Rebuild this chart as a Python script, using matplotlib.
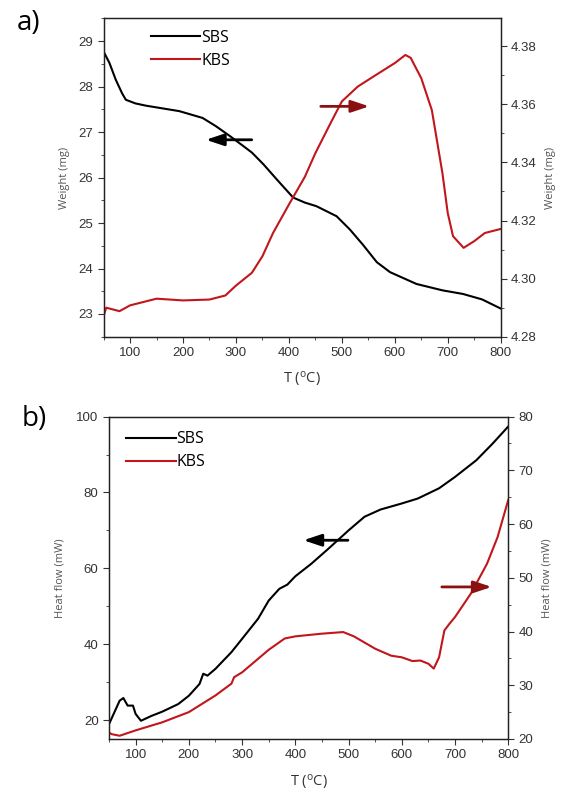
import numpy as np
import matplotlib; matplotlib.use('Agg')
import matplotlib.pyplot as plt
from matplotlib.ticker import MultipleLocator, FormatStrFormatter

# panel a: TGA weight
ta_sbs = [50, 61, 73, 85, 92, 110, 130, 193, 237, 262, 290, 313, 330, 352, 377, 408, 430, 452, 490, 515,
          540, 566, 591, 641, 690, 729, 765, 800]
wa_sbs = [28.77, 28.52, 28.15, 27.85, 27.71, 27.63, 27.58, 27.46, 27.31, 27.13, 26.9, 26.7, 26.55, 26.29,
          25.96, 25.56, 25.45, 25.37, 25.15, 24.86, 24.52, 24.14, 23.92, 23.66, 23.52, 23.44, 23.32, 23.12]
ta_kbs = [50, 55, 80, 100, 150, 200, 250, 280, 300, 330, 350, 370, 400, 430, 450, 480, 500, 530, 560,
          600, 620, 630, 650, 670, 690, 700, 710, 730, 750, 770, 800]
wa_kbs = [4.2871, 4.290, 4.2888, 4.2908, 4.2931, 4.2925, 4.2928, 4.2942, 4.2976, 4.302, 4.3077, 4.3157,
          4.3255, 4.335, 4.3432, 4.354, 4.361, 4.3661, 4.3696, 4.3742, 4.377, 4.376, 4.369, 4.358,
          4.3363, 4.3226, 4.3146, 4.3106, 4.3129, 4.3157, 4.3171]

# panel b: heat flow
tb_sbs = [50, 60, 70, 77, 85, 95, 100, 110, 130, 150, 180, 200, 220, 227, 235, 250, 280, 300, 330, 350,
          370, 385, 400, 430, 460, 500, 530, 560, 600, 630, 670, 700, 740, 770, 800]
hb_sbs = [18.9, 22.0, 25.1, 25.8, 23.8, 23.8, 21.6, 19.8, 21.1, 22.2, 24.2, 26.4, 29.5, 32.2, 31.7, 33.5,
          37.9, 41.4, 46.7, 51.5, 54.6, 55.7, 57.9, 61.2, 64.9, 70.0, 73.6, 75.5, 77.1, 78.4, 81.1, 84.1,
          88.5, 92.8, 97.4]
tb_kbs = [50, 55, 70, 100, 150, 200, 250, 280, 285, 300, 350, 380, 400, 450, 490, 510, 550, 580, 600,
          620, 635, 650, 660, 670, 680, 690, 700, 730, 760, 780, 800]
hb_kbs = [21.2, 20.9, 20.6, 21.6, 23.1, 25.0, 28.1, 30.3, 31.5, 32.4, 36.6, 38.7, 39.1, 39.6, 39.9, 39.1,
          36.8, 35.5, 35.2, 34.5, 34.6, 34.0, 33.1, 35.2, 40.2, 41.5, 42.7, 47.1, 52.6, 57.6, 64.5]

RED = '#c0161c'; DRED = '#8b1010'; TXT = '#333333'; LAB = '#555555'
fig = plt.figure(figsize=(5.63, 7.94), dpi=100)

def style(ax, ax2):
    for a in (ax, ax2):
        a.tick_params(which='both', direction='out', labelsize=9.5, colors=TXT, top=False)
        a.tick_params(which='major', length=4)
        a.tick_params(which='minor', length=2.5)
        for t in a.get_yticklabels() + a.get_xticklabels():
            t.set_fontfamily('Liberation Sans')
        for s in a.spines.values():
            s.set_color('#222222'); s.set_linewidth(0.9)
    ax.xaxis.set_major_locator(MultipleLocator(100)); ax.xaxis.set_minor_locator(MultipleLocator(50))
    ax.set_xlim(50, 800)
    ax.set_xlabel(r'T ($\mathregular{^{o}}$C)', fontsize=10.5, color=TXT, family='Open Sans', labelpad=8)

arrow = lambda c: dict(arrowstyle='-|>,head_length=0.9,head_width=0.3', color=c, lw=2, mutation_scale=12)
leg_kw = dict(loc='upper left', frameon=False, handlelength=3.1, handletextpad=0.05, borderpad=0,
              borderaxespad=0, labelspacing=0.45, prop={'family': 'Open Sans', 'size': 11.5})

# ---- a)
ax = fig.add_axes([0.184, 0.5759, 0.7053, 0.401])
ax2 = ax.twinx()
l1, = ax.plot(ta_sbs, wa_sbs, color='black', lw=1.5)
l2, = ax2.plot(ta_kbs, wa_kbs, color=RED, lw=1.5)
ax.set_ylim(22.5, 29.5); ax.yaxis.set_major_locator(MultipleLocator(1)); ax.yaxis.set_minor_locator(MultipleLocator(0.5))
ax2.set_ylim(4.28, 4.3896); ax2.yaxis.set_major_locator(MultipleLocator(0.02)); ax2.yaxis.set_minor_locator(MultipleLocator(0.01))
ax2.yaxis.set_major_formatter(FormatStrFormatter('%.2f'))
ax.set_ylabel('Weight (mg)', fontsize=8, color=LAB, family='Open Sans', labelpad=6)
ax2.set_ylabel('Weight (mg)', fontsize=8, color=LAB, family='Open Sans', labelpad=6)
style(ax, ax2)
ax.annotate('', xy=(238, 26.83), xytext=(335, 26.83), arrowprops=arrow('black'))
ax2.annotate('', xy=(557, 4.3593), xytext=(455, 4.3593), arrowprops=arrow(DRED))
fig.legend([l1, l2], ['SBS', 'KBS'], bbox_to_anchor=(0.268, 0.9626), **leg_kw)
fig.text(0.05, 0.971, 'a)', fontsize=20, family='Open Sans', ha='center', va='center')

# ---- b)
bx = fig.add_axes([0.1936, 0.0693, 0.7092, 0.406])
bx2 = bx.twinx()
m1, = bx.plot(tb_sbs, hb_sbs, color='black', lw=1.5)
m2, = bx2.plot(tb_kbs, hb_kbs, color=RED, lw=1.5)
bx.set_ylim(15, 100); bx.yaxis.set_major_locator(MultipleLocator(20)); bx.yaxis.set_minor_locator(MultipleLocator(10))
bx2.set_ylim(20, 80); bx2.yaxis.set_major_locator(MultipleLocator(10)); bx2.yaxis.set_minor_locator(MultipleLocator(5))
bx.set_ylabel('Heat flow (mW)', fontsize=8, color=LAB, family='Open Sans', labelpad=8)
bx2.set_ylabel('Heat flow (mW)', fontsize=8, color=LAB, family='Open Sans', labelpad=6)
style(bx, bx2)
bx.annotate('', xy=(410, 67.4), xytext=(504, 67.4), arrowprops=arrow('black'))
bx2.annotate('', xy=(774, 48.3), xytext=(670, 48.3), arrowprops=arrow(DRED))
fig.legend([m1, m2], ['SBS', 'KBS'], bbox_to_anchor=(0.224, 0.457), **leg_kw)
fig.text(0.06, 0.472, 'b)', fontsize=20, family='Open Sans', ha='center', va='center')

fig.savefig('out.png', dpi=100)
